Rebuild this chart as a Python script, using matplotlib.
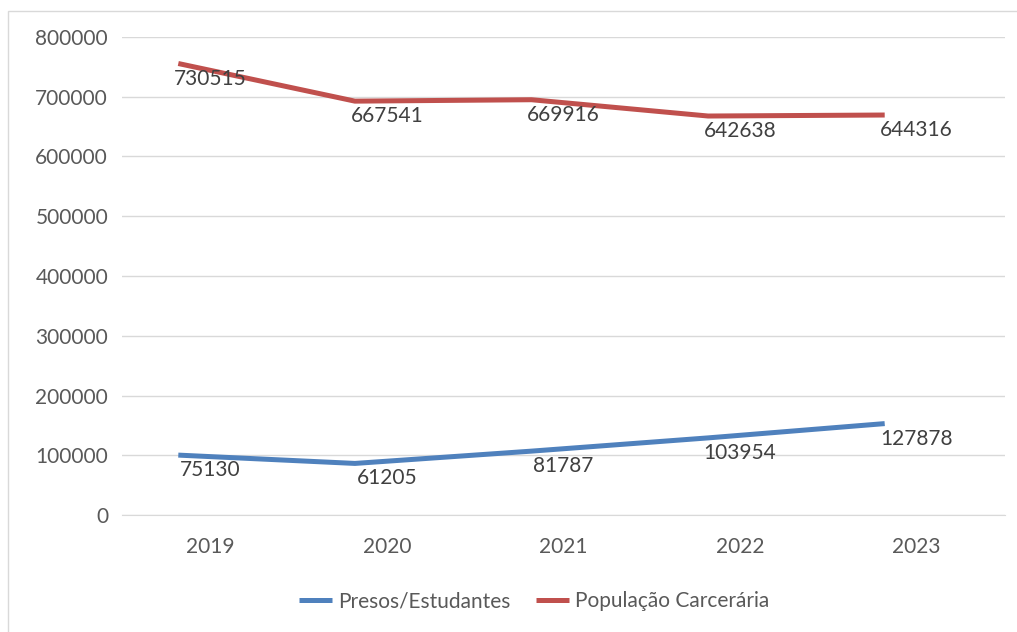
import numpy as np
import matplotlib
matplotlib.use('Agg')
import matplotlib.pyplot as plt
import matplotlib.transforms as mtransforms
from matplotlib.patches import Rectangle

anos = ['2019', '2020', '2021', '2022', '2023']
presos_estudantes = [75130, 61205, 81787, 103954, 127878]
populacao_carceraria = [730515, 667541, 669916, 642638, 644316]

azul = '#4F81BD'
vermelho = '#C0504D'
cinza_texto = '#595959'
cinza_grade = '#D9D9D9'

plt.rcParams['font.family'] = ['Lato', 'DejaVu Sans']

fig = plt.figure(figsize=(10.17, 6.32), dpi=100)
ax = fig.add_axes([122 / 1017, 1 - 515 / 632, (1005 - 122) / 1017, (515 - 37) / 632])

# borda do gráfico
fig.patches.append(Rectangle((8 / 1017, -0.1), 1.1, (632 - 11) / 632 + 0.1,
                             transform=fig.transFigure, fill=False,
                             edgecolor='#D9D9D9', lw=1))

x = np.arange(len(anos))

# as linhas aparecem deslocadas em relação aos rótulos na figura original
desloc = mtransforms.ScaledTranslation(-32 / 100, 15 / 100, fig.dpi_scale_trans)
trans_linha = ax.transData + desloc

ax.plot(x, presos_estudantes, color=azul, lw=3.6, transform=trans_linha,
        label='Presos/Estudantes', solid_capstyle='butt')
ax.plot(x, populacao_carceraria, color=vermelho, lw=3.6, transform=trans_linha,
        label='População Carcerária', solid_capstyle='butt')

for i in range(len(anos)):
    ax.text(x[i], presos_estudantes[i], str(presos_estudantes[i]),
            ha='center', va='center', fontsize=15, color='#404040')
    ax.text(x[i], populacao_carceraria[i], str(populacao_carceraria[i]),
            ha='center', va='center', fontsize=15, color='#404040')

ax.set_xlim(-0.5, len(anos) - 0.5)
ax.set_ylim(0, 800000)
ax.set_yticks(np.arange(0, 800001, 100000))
ax.set_yticklabels([str(v) for v in range(0, 800001, 100000)])
ax.set_xticks(x)
ax.set_xticklabels(anos)
ax.tick_params(axis='both', length=0, labelsize=15, colors=cinza_texto)
ax.tick_params(axis='y', pad=10)
ax.tick_params(axis='x', pad=16)

ax.grid(axis='y', color=cinza_grade, lw=1)
ax.set_axisbelow(True)
for s in ['top', 'right', 'left']:
    ax.spines[s].set_visible(False)
ax.spines['bottom'].set_color(cinza_grade)

leg = fig.legend(loc='center', bbox_to_anchor=(534 / 1017, 1 - 601 / 632), ncol=2,
                 frameon=False, fontsize=15, handlelength=1.6, handletextpad=0.3,
                 columnspacing=1.2)
for t in leg.get_texts():
    t.set_color(cinza_texto)

fig.savefig('out.png', dpi=100, facecolor='white')
